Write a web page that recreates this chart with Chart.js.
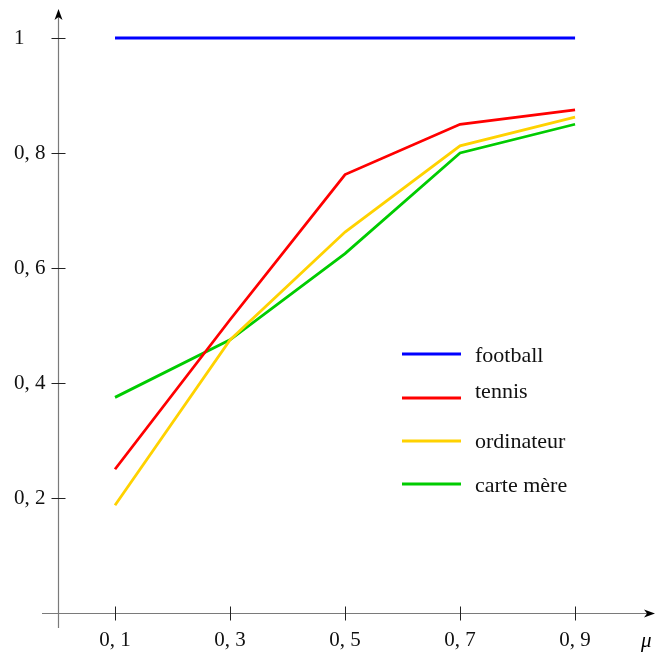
<!DOCTYPE html>
<html>
<head>
<meta charset="utf-8">
<script src="https://cdn.jsdelivr.net/npm/chart.js@4.4.1/dist/chart.umd.min.js"></script>
<style>
  html, body { margin: 0; padding: 0; background: #fff; }
  #wrap { width: 655px; height: 657px; position: relative; }
</style>
</head>
<body>
<div id="wrap"><canvas id="muChart"></canvas></div>
<script>
// data
const muValues = [0.1, 0.3, 0.5, 0.7, 0.9];
const yTickValues = [0.2, 0.4, 0.6, 0.8, 1];
const seriesNames = ['football', 'tennis', 'ordinateur', 'carte mère'];
const football = [1, 1, 1, 1, 1];
const tennis = [0.25, 0.51, 0.7625, 0.85, 0.875];
const ordinateur = [0.1875, 0.475, 0.6625, 0.8125, 0.8625];
const carteMere = [0.375, 0.475, 0.625, 0.8, 0.85];

const seriesColors = ['#0000ff', '#ff0000', '#ffd200', '#00cc00'];
const serif = '"Liberation Serif", "DejaVu Serif", serif';

function fmt(v) {
    if (v === 1) return '1';
    return '0, ' + Math.round(v * 10);
}

function toPoints(arr) {
    return arr.map((y, i) => ({ x: muValues[i], y: y }));
}

// axes with arrows, tick marks, mu label
const axesPlugin = {
    id: 'texAxes',
    afterDraw(chart) {
        const ctx = chart.ctx;
        const xs = chart.scales.x, ys = chart.scales.y;
        const x0 = Math.round(xs.getPixelForValue(0)) + 0.5;
        const y0 = Math.round(ys.getPixelForValue(0)) + 0.5;
        const right = chart.width;
        const top = 9;
        ctx.save();
        ctx.strokeStyle = '#7a7a7a';
        ctx.lineWidth = 1.2;
        ctx.beginPath();
        ctx.moveTo(42, y0);
        ctx.lineTo(right - 4, y0);
        ctx.moveTo(x0, 628);
        ctx.lineTo(x0, top + 4);
        ctx.stroke();

        ctx.fillStyle = '#000';
        // x arrow
        ctx.beginPath();
        ctx.moveTo(right, y0);
        ctx.lineTo(right - 11, y0 - 4);
        ctx.lineTo(right - 8, y0);
        ctx.lineTo(right - 11, y0 + 4);
        ctx.closePath();
        ctx.fill();
        // y arrow
        ctx.beginPath();
        ctx.moveTo(x0, top);
        ctx.lineTo(x0 - 4, top + 11);
        ctx.lineTo(x0, top + 8);
        ctx.lineTo(x0 + 4, top + 11);
        ctx.closePath();
        ctx.fill();

        // tick marks
        ctx.strokeStyle = '#222';
        ctx.lineWidth = 1;
        ctx.beginPath();
        muValues.forEach(v => {
            const px = Math.round(xs.getPixelForValue(v)) + 0.5;
            ctx.moveTo(px, y0 - 7);
            ctx.lineTo(px, y0 + 7);
        });
        yTickValues.forEach(v => {
            const py = Math.round(ys.getPixelForValue(v)) + 0.5;
            ctx.moveTo(x0 - 7, py);
            ctx.lineTo(x0 + 7, py);
        });
        ctx.stroke();

        // axis name
        ctx.fillStyle = '#000';
        ctx.font = 'italic 21px ' + serif;
        ctx.textAlign = 'left';
        ctx.textBaseline = 'alphabetic';
        ctx.fillText('\u03bc', 641, 647);
        ctx.restore();
    }
};

// legend inside the plot area
const legendPlugin = {
    id: 'insideLegend',
    afterDatasetsDraw(chart) {
        const ctx = chart.ctx;
        const lineY = [354, 398, 441, 484];
        const textY = [362, 398, 448, 492];
        ctx.save();
        ctx.font = '22px ' + serif;
        ctx.textBaseline = 'alphabetic';
        ctx.textAlign = 'left';
        chart.data.datasets.forEach((ds, i) => {
            ctx.strokeStyle = ds.borderColor;
            ctx.lineWidth = ds.borderWidth;
            ctx.beginPath();
            ctx.moveTo(402, lineY[i]);
            ctx.lineTo(461, lineY[i]);
            ctx.stroke();
            ctx.fillStyle = '#111';
            ctx.fillText(ds.label, 475, textY[i]);
        });
        ctx.restore();
    }
};

const seriesData = [football, tennis, ordinateur, carteMere];

const muChart = new Chart(document.getElementById('muChart').getContext('2d'), {
    type: 'line',
    data: {
        datasets: seriesData.map((arr, i) => ({
            label: seriesNames[i],
            data: toPoints(arr),
            borderColor: seriesColors[i],
            backgroundColor: seriesColors[i],
            borderWidth: 2.8,
            pointRadius: 0,
            tension: 0,
            fill: false
        }))
    },
    options: {
        responsive: true,
        maintainAspectRatio: false,
        animation: false,
        layout: { padding: { left: 14, top: 10, right: 0, bottom: 0 } },
        scales: {
            x: {
                type: 'linear',
                min: 0,
                max: 1.039,
                afterBuildTicks: (scale) => { scale.ticks = muValues.map(v => ({ value: v })); },
                afterFit: (scale) => {
                    scale.height = 44;
                    scale.paddingLeft = 0;
                    scale.paddingRight = 0;
                },
                grid: { display: false, drawTicks: false },
                border: { display: false },
                ticks: {
                    color: '#111',
                    padding: 15,
                    maxRotation: 0,
                    autoSkip: false,
                    font: { family: serif, size: 21 },
                    callback: (v) => fmt(v)
                }
            },
            y: {
                type: 'linear',
                min: 0,
                max: 1.0487,
                afterBuildTicks: (scale) => { scale.ticks = yTickValues.map(v => ({ value: v })); },
                afterFit: (scale) => {
                    scale.width = 43.5;
                    scale.paddingTop = 0;
                    scale.paddingBottom = 0;
                },
                grid: { display: false, drawTicks: false },
                border: { display: false },
                ticks: {
                    color: '#111',
                    crossAlign: 'far',
                    autoSkip: false,
                    font: { family: serif, size: 21 },
                    callback: (v) => fmt(v)
                }
            }
        },
        plugins: {
            legend: { display: false },
            tooltip: { enabled: false }
        }
    },
    plugins: [axesPlugin, legendPlugin]
});
</script>
</body>
</html>
